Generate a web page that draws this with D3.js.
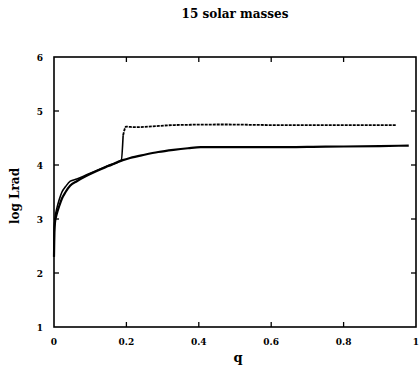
<!DOCTYPE html>
<html>
<head>
<meta charset="utf-8">
<script src="https://cdn.jsdelivr.net/npm/d3@7"></script>
<style>
  body { margin: 0; background: #fff; }
  text { font-family: "DejaVu Serif", serif; font-weight: bold; fill: #000; }
</style>
</head>
<body>
<svg id="chart" width="420" height="369"></svg>
<script>
// tick values
var xTicks = [0, 0.2, 0.4, 0.6, 0.8, 1];
var yTicks = [1, 2, 3, 4, 5, 6];

// lower curve (solid)
var lowerQ = [0, 0.001, 0.003, 0.008, 0.015, 0.022, 0.032, 0.045, 0.063, 0.09, 0.118, 0.15, 0.19, 0.21, 0.25, 0.288, 0.33, 0.37, 0.405, 0.47, 0.6, 0.75, 0.9, 0.98];
var lowerL = [2.3, 2.75, 2.95, 3.1, 3.25, 3.38, 3.5, 3.62, 3.7, 3.8, 3.89, 3.98, 4.09, 4.13, 4.19, 4.24, 4.28, 4.31, 4.33, 4.33, 4.33, 4.34, 4.35, 4.36];

// upper curve: follows lower, then jumps near q = 0.19 (dotted plateau)
var upperQ = [0, 0.001, 0.003, 0.008, 0.015, 0.022, 0.032, 0.045, 0.063, 0.09, 0.118, 0.15, 0.186, 0.191, 0.199, 0.224, 0.26, 0.333, 0.47, 0.6, 0.75, 0.9, 0.945];
var upperL = [2.3, 2.8, 3.02, 3.2, 3.37, 3.5, 3.6, 3.7, 3.74, 3.82, 3.9, 3.99, 4.09, 4.55, 4.71, 4.70, 4.71, 4.74, 4.75, 4.74, 4.74, 4.74, 4.74];

var svg = d3.select("#chart");
var x = d3.scaleLinear().domain([0, 1]).range([54, 416]);
var y = d3.scaleLinear().domain([1, 6]).range([327, 57]);

var lower = lowerQ.map(function (q, i) { return { q: q, l: lowerL[i] }; });
var upper = upperQ.map(function (q, i) { return { q: q, l: upperL[i] }; });

var line = d3.line()
  .x(function (d) { return x(d.q); })
  .y(function (d) { return y(d.l); })
  .curve(d3.curveMonotoneX);

// frame
svg.append("rect")
  .attr("x", x(0)).attr("y", y(6))
  .attr("width", x(1) - x(0)).attr("height", y(1) - y(6))
  .attr("fill", "none").attr("stroke", "#000").attr("stroke-width", 1.6);

// inward ticks on all sides
var tl = 5;
var innerX = xTicks.slice(1, -1), innerY = yTicks.slice(1, -1);
var tk = svg.append("g").attr("stroke", "#000").attr("stroke-width", 1.3);
innerX.forEach(function (v) {
  tk.append("line").attr("x1", x(v)).attr("x2", x(v)).attr("y1", y(1)).attr("y2", y(1) - tl);
  tk.append("line").attr("x1", x(v)).attr("x2", x(v)).attr("y1", y(6)).attr("y2", y(6) + tl);
});
innerY.forEach(function (v) {
  tk.append("line").attr("x1", x(0)).attr("x2", x(0) + tl).attr("y1", y(v)).attr("y2", y(v));
  tk.append("line").attr("x1", x(1)).attr("x2", x(1) - tl).attr("y1", y(v)).attr("y2", y(v));
});

// tick labels
svg.append("g").selectAll("text").data(xTicks).enter().append("text")
  .attr("x", function (d) { return x(d); })
  .attr("y", 345)
  .attr("text-anchor", "middle")
  .attr("font-size", 9)
  .text(function (d) { return d === 0 || d === 1 ? d : d.toFixed(1); });

svg.append("g").selectAll("text").data(yTicks).enter().append("text")
  .attr("x", 40)
  .attr("y", function (d) { return y(d) + 3.5; })
  .attr("text-anchor", "middle")
  .attr("font-size", 9)
  .text(function (d) { return d; });

// curves
svg.append("path").datum(lower)
  .attr("d", line).attr("fill", "none").attr("stroke", "#000").attr("stroke-width", 2.2);

var jump = 13;
svg.append("path").datum(upper.slice(0, jump + 1))
  .attr("d", line).attr("fill", "none").attr("stroke", "#000").attr("stroke-width", 1.6);
svg.append("path").datum(upper.slice(jump))
  .attr("d", line).attr("fill", "none").attr("stroke", "#000").attr("stroke-width", 1.8)
  .attr("stroke-dasharray", "3,1");

// titles
svg.append("text").attr("x", 235).attr("y", 18).attr("text-anchor", "middle")
  .attr("font-size", 12).text("15 solar masses");
svg.append("text").attr("x", 238).attr("y", 362).attr("text-anchor", "middle")
  .attr("font-size", 13).text("q");
svg.append("text").attr("transform", "translate(19,196) rotate(-90)")
  .attr("text-anchor", "middle").attr("font-size", 12).text("log Lrad");
</script>
</body>
</html>
